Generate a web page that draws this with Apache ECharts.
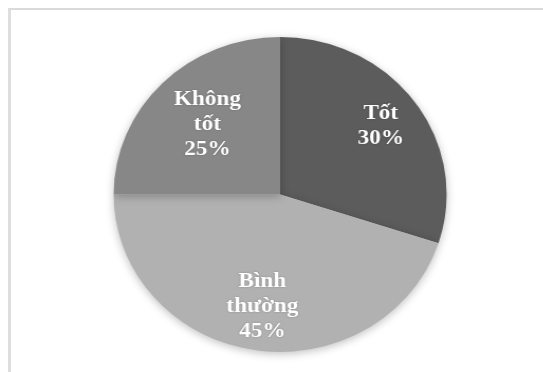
<!DOCTYPE html>
<html>
<head>
<meta charset="utf-8">
<script src="https://cdn.jsdelivr.net/npm/echarts@6/dist/echarts.min.js"></script>
<style>
  html, body { margin: 0; padding: 0; background: #ffffff; overflow: hidden; }
  #frame {
    position: absolute; left: 8px; top: 8px; width: 560px; height: 400px;
    border-top: 2px solid #dadada; border-left: 3px solid #dedede;
  }
  /* the pie is drawn slightly wider than tall */
  #chart {
    position: absolute; left: 0; top: 0; width: 514px; height: 372px;
    transform: scaleX(1.0571); transform-origin: 0 0;
  }
</style>
</head>
<body>
<div id="frame"></div>
<div id="chart"></div>
<script>
// Đánh giá chung (%)
const categories = ['Tốt', 'Bình thường', 'Không tốt'];
const percentValues = [30, 45, 25];
const sliceColors = ['#5c5c5c', '#b1b1b1', '#878787'];
// nudges of each label from the default inside spot
const labelOffsets = [[29, -21], [-4, 31], [-11, -12]];

const chart = echarts.init(document.getElementById('chart'), null, { renderer: 'canvas' });

const seriesData = categories.map((name, i) => ({
  name: name,
  value: percentValues[i],
  itemStyle: { color: sliceColors[i] },
  label: { offset: labelOffsets[i] }
}));

chart.setOption({
  animation: false,
  backgroundColor: 'transparent',
  series: [{
    type: 'pie',
    center: [265, 194.5],
    radius: 157.5,
    startAngle: 90,
    clockwise: true,
    silent: true,
    itemStyle: {
      borderWidth: 0,
      shadowBlur: 8,
      shadowColor: 'rgba(0,0,0,0.25)',
      shadowOffsetY: 2
    },
    label: {
      show: true,
      position: 'inside',
      formatter: p => p.name.replace(' ', '\n') + '\n' + p.value + '%',
      color: '#ffffff',
      fontFamily: '"Liberation Serif", "DejaVu Serif", serif',
      fontWeight: 'bold',
      fontSize: 22,
      lineHeight: 25,
      align: 'center',
      textShadowColor: 'rgba(0,0,0,0.25)',
      textShadowBlur: 2
    },
    labelLine: { show: false },
    data: seriesData
  }]
});
</script>
</body>
</html>
